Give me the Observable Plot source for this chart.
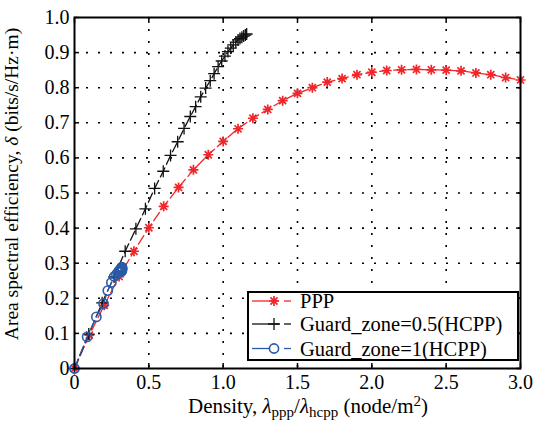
<!DOCTYPE html>
<html><head><meta charset="utf-8">
<script src="https://cdn.jsdelivr.net/npm/d3@7"></script>
<script src="https://cdn.jsdelivr.net/npm/@observablehq/plot@0.6"></script>
<style>
body{margin:0;background:#fff;}
#chart{width:539px;height:428px;}
#chart svg, #chart svg text{font-family:"Liberation Serif","Times New Roman",serif !important;}
</style></head><body><div id="chart"></div>
<script>
// ---- data ----
const pppX = [0,0.1,0.2,0.3,0.4,0.5,0.6,0.7,0.8,0.9,1.0,1.1,1.2,1.3,1.4,1.5,1.6,1.7,1.8,1.9,2.0,2.1,2.2,2.3,2.4,2.5,2.6,2.7,2.8,2.9,3.0];
const pppY = [0,0.095,0.180,0.262,0.334,0.401,0.462,0.516,0.566,0.609,0.647,0.683,0.713,0.738,0.763,0.784,0.800,0.816,0.826,0.837,0.844,0.849,0.851,0.852,0.851,0.850,0.848,0.842,0.837,0.829,0.822];

const gz05X = [0,0.096,0.186,0.266,0.341,0.413,0.477,0.539,0.597,0.646,0.694,0.737,0.779,0.815,0.849,0.882,0.913,0.939,0.966,0.990,1.012,1.032,1.051,1.068,1.085,1.100,1.113,1.126,1.138,1.149,1.158];
const gz05Y = [0,0.098,0.187,0.261,0.334,0.398,0.455,0.513,0.562,0.607,0.646,0.684,0.718,0.746,0.774,0.799,0.820,0.840,0.860,0.876,0.890,0.903,0.913,0.922,0.930,0.936,0.940,0.944,0.947,0.950,0.953];

const gz1X = [0,0.085,0.147,0.195,0.224,0.248,0.267,0.282,0.293,0.300,0.306,0.310,0.313,0.315,0.316,0.317,0.318,0.318,0.319,0.319,0.319,0.320,0.320];
const gz1Y = [0,0.090,0.147,0.185,0.222,0.245,0.262,0.268,0.274,0.278,0.281,0.276,0.284,0.279,0.287,0.282,0.286,0.277,0.284,0.289,0.280,0.286,0.283];

const xTicks = [0,0.5,1.0,1.5,2.0,2.5,3.0];
const yTicks = [0,0.1,0.2,0.3,0.4,0.5,0.6,0.7,0.8,0.9,1.0];
const seriesNames = ["PPP","Guard_zone=0.5(HCPP)","Guard_zone=1(HCPP)"];
const colors = ["#f0262b","#111111","#2a5ba8"];

const ppp = pppX.map((x,i)=>({x, y:pppY[i]}));
const gz05 = gz05X.map((x,i)=>({x, y:gz05Y[i]}));
const gz1 = gz1X.map((x,i)=>({x, y:gz1Y[i]}));

// custom marker symbols (MATLAB-like)
const asterisk8 = {draw(ctx, size){const r=Math.sqrt(size/Math.PI), d=r*Math.SQRT1_2;
  ctx.moveTo(-r,0);ctx.lineTo(r,0);ctx.moveTo(0,-r);ctx.lineTo(0,r);
  ctx.moveTo(-d,-d);ctx.lineTo(d,d);ctx.moveTo(-d,d);ctx.lineTo(d,-d);}};
const plusSym = {draw(ctx, size){const r=Math.sqrt(size/Math.PI);
  ctx.moveTo(-r,0);ctx.lineTo(r,0);ctx.moveTo(0,-r);ctx.lineTo(0,r);}};
const circSym = {draw(ctx, size){const r=Math.sqrt(size/Math.PI); ctx.moveTo(r,0); ctx.arc(0,0,r,0,2*Math.PI);}};

const fmt = d => d === 0 ? "0" : d.toFixed(1);
const dash = "10,4";
const serif = "Liberation Serif";

const svg = Plot.plot({
  width: 539, height: 428,
  marginLeft: 74, marginRight: 19, marginTop: 17, marginBottom: 60,
  style: {fontFamily: serif, fontSize: "20px", color: "#000", background: "#fff"},
  x: {domain: [0, 3], ticks: xTicks},
  y: {domain: [0, 1], ticks: yTicks},
  marks: [
    Plot.gridX(xTicks.slice(1, -1), {stroke: "#000", strokeOpacity: 1, strokeWidth: 1.6, strokeDasharray: "2,10"}),
    Plot.gridY(yTicks.slice(1, -1), {stroke: "#000", strokeOpacity: 1, strokeWidth: 1.6, strokeDasharray: "2,10"}),
    Plot.axisX({anchor: "bottom", ticks: xTicks, tickSize: 0, tickPadding: 6, tickFormat: fmt, label: null, fontSize: 20, fontFamily: serif, fontVariant: "normal"}),
    Plot.axisX({anchor: "bottom", ticks: xTicks, tickSize: -5, text: null, label: null, strokeWidth: 1.5}),
    Plot.axisX({anchor: "top", ticks: xTicks, tickSize: -5, text: null, label: null, strokeWidth: 1.5}),
    Plot.axisY({anchor: "left", ticks: yTicks, tickSize: 0, tickPadding: 5, tickFormat: fmt, label: null, fontSize: 20, fontFamily: serif, fontVariant: "normal"}),
    Plot.axisY({anchor: "left", ticks: yTicks, tickSize: -5, text: null, label: null, strokeWidth: 1.5}),
    Plot.axisY({anchor: "right", ticks: yTicks, tickSize: -5, text: null, label: null, strokeWidth: 1.5}),
    Plot.line(ppp, {x: "x", y: "y", stroke: colors[0], strokeWidth: 1.3, strokeDasharray: dash}),
    Plot.dot(ppp, {x: "x", y: "y", symbol: asterisk8, r: 5, fill: "none", stroke: colors[0], strokeWidth: 1.7}),
    Plot.line(gz05, {x: "x", y: "y", stroke: colors[1], strokeWidth: 1.3, strokeDasharray: dash}),
    Plot.dot(gz05, {x: "x", y: "y", symbol: plusSym, r: 6, fill: "none", stroke: colors[1], strokeWidth: 1.3}),
    Plot.line(gz1, {x: "x", y: "y", stroke: colors[2], strokeWidth: 1.3, strokeDasharray: dash}),
    Plot.dot(gz1, {x: "x", y: "y", symbol: circSym, r: 4.6, fill: "none", stroke: colors[2], strokeWidth: 1.6}),
    Plot.frame({stroke: "#000", strokeWidth: 2})
  ]
});
document.getElementById("chart").appendChild(svg);

// ---- axis labels with sub/superscripts ----
const s = d3.select(svg);
const yl = s.append("text").attr("transform", "translate(18,184) rotate(-90)")
  .attr("text-anchor", "middle").attr("font-size", 19.5).attr("fill", "#000");
yl.append("tspan").text("Area spectral efficiency, ");
yl.append("tspan").attr("font-style", "italic").text("δ");
yl.append("tspan").text(" (bits/s/Hz·m)");

const xl = s.append("text").attr("x", 308).attr("y", 413)
  .attr("text-anchor", "middle").attr("font-size", 21).attr("fill", "#000");
xl.append("tspan").text("Density, ");
xl.append("tspan").attr("font-style", "italic").text("λ");
xl.append("tspan").attr("font-size", 15).attr("dy", 4).text("ppp");
xl.append("tspan").attr("dy", -4).text("/");
xl.append("tspan").attr("font-style", "italic").text("λ");
xl.append("tspan").attr("font-size", 15).attr("dy", 4).text("hcpp");
xl.append("tspan").attr("dy", -4).text(" (node/m");
xl.append("tspan").attr("font-size", 15).attr("dy", -7).text("2");
xl.append("tspan").attr("dy", 7).text(")");

// ---- legend ----
const lg = s.append("g");
lg.append("rect").attr("x", 248).attr("y", 292).attr("width", 270).attr("height", 68)
  .attr("fill", "#fff").attr("stroke", "#000").attr("stroke-width", 2);
const rowsY = [301, 324, 348.5];
const syms = [[asterisk8, 25*Math.PI, 1.7], [plusSym, 36*Math.PI, 1.3], [circSym, 4.6*4.6*Math.PI, 1.6]];
seriesNames.forEach((name, i) => {
  const y = rowsY[i];
  lg.append("line").attr("x1", 252).attr("x2", 279).attr("y1", y).attr("y2", y).attr("stroke", colors[i]).attr("stroke-width", 1.3);
  lg.append("line").attr("x1", 284).attr("x2", 291).attr("y1", y).attr("y2", y).attr("stroke", colors[i]).attr("stroke-width", 1.3);
  lg.append("path").attr("transform", `translate(274,${y})`)
    .attr("d", d3.symbol(syms[i][0], syms[i][1])())
    .attr("fill", i === 2 ? "#fff" : "none").attr("stroke", colors[i]).attr("stroke-width", syms[i][2]);
  lg.append("text").attr("x", 300).attr("y", y).attr("dy", "0.35em").attr("text-anchor", "start")
    .attr("font-size", 20.5).attr("fill", "#000").text(name);
});
</script></body></html>
